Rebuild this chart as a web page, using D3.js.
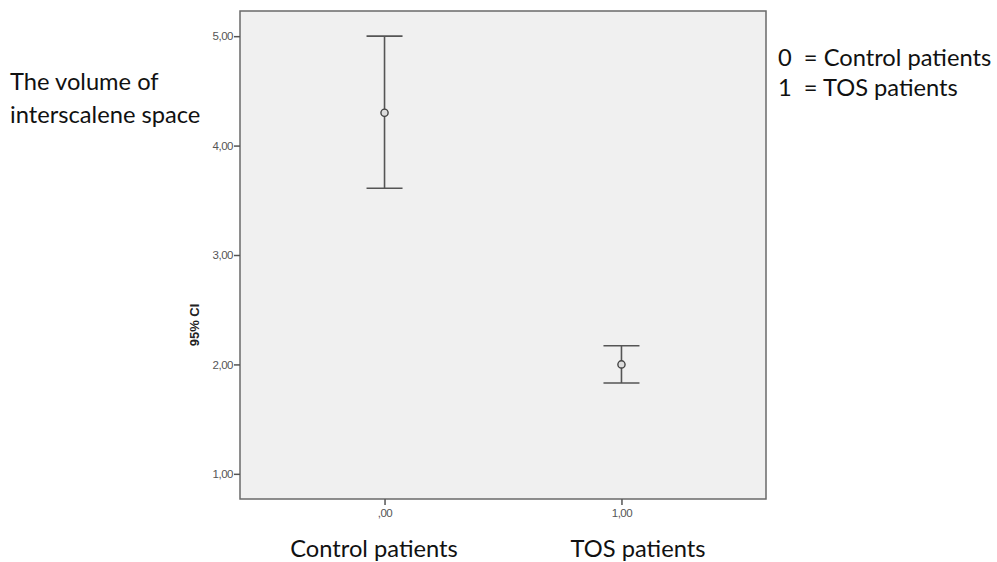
<!DOCTYPE html>
<html>
<head>
<meta charset="utf-8">
<script src="https://cdn.jsdelivr.net/npm/d3@7"></script>
<style>
  body { margin: 0; background: #fff; }
  svg { display: block; }
</style>
</head>
<body>
<svg></svg>
<script>
// Data
const groups = [0, 1];
const groupLabels = [",00", "1,00"];
const means = [4.30, 2.00];
const lower = [3.61, 1.83];
const upper = [5.00, 2.17];
const yTicks = [1, 2, 3, 4, 5];
const legendLines = ["0  = Control patients", "1  = TOS patients"];
const bottomLabels = ["Control patients", "TOS patients"];

const width = 997, height = 562;
const svg = d3.select("svg")
  .attr("width", width)
  .attr("height", height);

// plot frame
const frame = { left: 240, top: 11, right: 766, bottom: 499 };

const x = d3.scaleLinear()
  .domain([-0.61, 1.61])
  .range([frame.left, frame.right]);

const y = d3.scaleLinear()
  .domain([0.77, 5.23])
  .range([frame.bottom, frame.top]);

svg.append("rect")
  .attr("x", frame.left)
  .attr("y", frame.top)
  .attr("width", frame.right - frame.left)
  .attr("height", frame.bottom - frame.top)
  .attr("fill", "#f0f0f0")
  .attr("stroke", "#6a6a6a")
  .attr("stroke-width", 1.5);

// y axis
const yAxis = svg.append("g")
  .attr("transform", `translate(${frame.left},0)`)
  .call(d3.axisLeft(y).tickValues(yTicks).tickSize(6).tickPadding(1)
    .tickFormat(d => d3.format(".2f")(d).replace(".", ",")));

// x axis
const xAxis = svg.append("g")
  .attr("transform", `translate(0,${frame.bottom})`)
  .call(d3.axisBottom(x).tickValues(groups).tickSize(6).tickPadding(4)
    .tickFormat((d, i) => groupLabels[i]));

[yAxis, xAxis].forEach(ax => {
  ax.select(".domain").remove();
  ax.selectAll(".tick line").attr("stroke", "#555").attr("stroke-width", 1.5);
  ax.selectAll(".tick text")
    .attr("fill", "#555")
    .style("font-family", "Liberation Sans, Arial, sans-serif")
    .style("font-size", "11.5px")
    .style("letter-spacing", "-0.5px");
});

// y axis title
svg.append("text")
  .attr("transform", `translate(199,325) rotate(-90)`)
  .attr("text-anchor", "middle")
  .style("font-family", "Liberation Sans, Arial, sans-serif")
  .style("font-size", "13px")
  .style("font-weight", "bold")
  .attr("fill", "#222")
  .text("95% CI");

// error bars
const capHalf = 18;
const bars = svg.append("g")
  .selectAll("g")
  .data(groups)
  .enter().append("g")
  .attr("stroke", "#555")
  .attr("stroke-width", 1.6)
  .attr("fill", "none");

bars.append("line")
  .attr("x1", d => x(d)).attr("x2", d => x(d))
  .attr("y1", (d, i) => y(lower[i])).attr("y2", (d, i) => y(upper[i]));

bars.append("line")
  .attr("x1", d => x(d) - capHalf).attr("x2", d => x(d) + capHalf)
  .attr("y1", (d, i) => y(upper[i])).attr("y2", (d, i) => y(upper[i]));

bars.append("line")
  .attr("x1", d => x(d) - capHalf).attr("x2", d => x(d) + capHalf)
  .attr("y1", (d, i) => y(lower[i])).attr("y2", (d, i) => y(lower[i]));

bars.append("circle")
  .attr("cx", d => x(d))
  .attr("cy", (d, i) => y(means[i]))
  .attr("r", 3.6)
  .attr("fill", "#ddd")
  .attr("stroke", "#444")
  .attr("stroke-width", 1.4);

// annotations
const annoFont = "Lato, 'Open Sans', sans-serif";
const annoSize = "23.7px";

svg.append("g")
  .selectAll("text")
  .data(["The volume of", "interscalene space"])
  .enter().append("text")
  .attr("x", 10)
  .attr("y", (d, i) => 90 + i * 33)
  .style("font-family", annoFont)
  .style("font-size", annoSize)
  .attr("fill", "#111")
  .text(d => d);

svg.append("g")
  .selectAll("text")
  .data(legendLines)
  .enter().append("text")
  .attr("x", 778)
  .attr("y", (d, i) => 66 + i * 30)
  .attr("xml:space", "preserve")
  .style("white-space", "pre")
  .style("font-family", annoFont)
  .style("font-size", annoSize)
  .attr("fill", "#111")
  .text(d => d);

svg.append("g")
  .selectAll("text")
  .data(bottomLabels)
  .enter().append("text")
  .attr("x", (d, i) => [374, 638][i])
  .attr("y", 557)
  .attr("text-anchor", "middle")
  .style("font-family", annoFont)
  .style("font-size", annoSize)
  .attr("fill", "#111")
  .text(d => d);
</script>
</body>
</html>
